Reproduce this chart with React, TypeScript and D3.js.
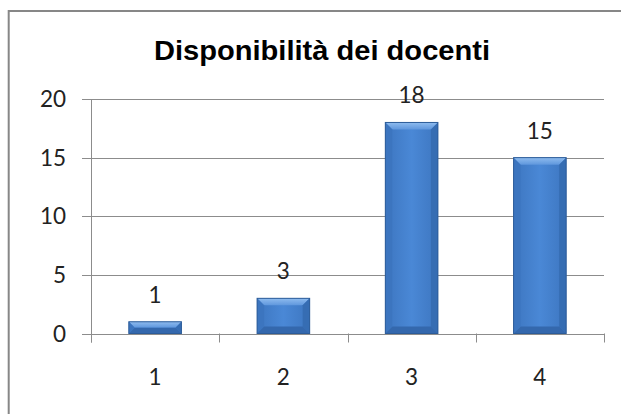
import React from "react";
import * as d3 from "d3";

const categories = ["1", "2", "3", "4"];
const values = [1, 3, 18, 15];
const yTicks = [0, 5, 10, 15, 20];
const title = "Disponibilità dei docenti";

const W = 621;
const H = 414;
const plot = { left: 91, right: 604, top: 99, bottom: 333.5 };

export default function App() {
  const x = d3
    .scaleBand<string>()
    .domain(categories)
    .range([plot.left, plot.right])
    .paddingInner(0.59)
    .paddingOuter(0.295);
  const y = d3.scaleLinear().domain([0, 20]).range([plot.bottom, plot.top]);
  const step = x.step();
  const bw = x.bandwidth();
  const numFont = "Lato, 'Open Sans', sans-serif";
  const grid = "#8c8c8c";
  const bev = 7;

  return (
    <svg
      width={W}
      height={H}
      style={{ position: "absolute", left: 0, top: 0, background: "#fff" }}
    >
      <defs>
        <linearGradient id="barFill" x1="0" x2="1" y1="0" y2="0">
          <stop offset="0" stopColor="#3d76c0" />
          <stop offset="0.5" stopColor="#4a88d6" />
          <stop offset="1" stopColor="#3d76c0" />
        </linearGradient>
        <linearGradient id="topFill" x1="0" x2="0" y1="0" y2="1">
          <stop offset="0" stopColor="#8fbcef" />
          <stop offset="1" stopColor="#5f97dd" />
        </linearGradient>
      </defs>
      <rect x={0} y={0} width={W} height={H} fill="#fff" />
      <rect
        x={8.7}
        y={11}
        width={800}
        height={600}
        fill="#fff"
        stroke="#878787"
        strokeWidth={2}
      />
      <text
        x={322}
        y={60}
        textAnchor="middle"
        fontFamily="'Liberation Sans', Arial, sans-serif"
        fontWeight="bold"
        fontSize={27}
        textLength={336}
        lengthAdjust="spacingAndGlyphs"
        fill="#000"
      >
        {title}
      </text>
      {yTicks.map((t) => (
        <g key={t}>
          <line
            x1={plot.left - 9}
            x2={plot.right}
            y1={Math.round(y(t)) + 0.5}
            y2={Math.round(y(t)) + 0.5}
            stroke={grid}
            strokeWidth={1}
          />
          <text
            x={66}
            y={y(t) + 8}
            textAnchor="end"
            fontFamily={numFont}
            fontSize={22.5}
            fill="#222"
          >
            {t}
          </text>
        </g>
      ))}
      <line
        x1={plot.left + 0.5}
        x2={plot.left + 0.5}
        y1={plot.top}
        y2={plot.bottom + 9}
        stroke={grid}
      />
      {d3.range(categories.length + 1).map((i) => {
        const xx = Math.round(plot.left + i * step) + 0.5;
        return (
          <line
            key={i}
            x1={xx}
            x2={xx}
            y1={plot.bottom}
            y2={plot.bottom + 9}
            stroke={grid}
          />
        );
      })}
      {categories.map((c, i) => {
        const x0 = x(c)!;
        const top = y(values[i]);
        const bot = y(0);
        const h = bot - top;
        const b = Math.min(bev, h / 2);
        return (
          <g key={c}>
            <rect x={x0} y={top} width={bw} height={h} fill="url(#barFill)" />
            <path
              d={`M${x0},${top} L${x0 + bw},${top} L${x0 + bw - b},${top + b} L${x0 + b},${top + b} Z`}
              fill="url(#topFill)"
            />
            <path
              d={`M${x0},${bot} L${x0 + bw},${bot} L${x0 + bw - b},${bot - b} L${x0 + b},${bot - b} Z`}
              fill="#3468ad"
            />
            <path
              d={`M${x0},${top} L${x0 + b},${top + b} L${x0 + b},${bot - b} L${x0},${bot} Z`}
              fill="#3c75bf"
            />
            <path
              d={`M${x0 + bw},${top} L${x0 + bw - b},${top + b} L${x0 + bw - b},${bot - b} L${x0 + bw},${bot} Z`}
              fill="#366db3"
            />
            <rect
              x={x0}
              y={top}
              width={bw}
              height={h}
              fill="none"
              stroke="#2c5c99"
              strokeWidth={1}
            />
            <text
              x={x0 + bw / 2}
              y={top - 19}
              textAnchor="middle"
              fontFamily={numFont}
              fontSize={22.5}
              fill="#222"
            >
              {values[i]}
            </text>
            <text
              x={x0 + bw / 2}
              y={384.5}
              textAnchor="middle"
              fontFamily={numFont}
              fontSize={22.5}
              fill="#222"
            >
              {c}
            </text>
          </g>
        );
      })}
    </svg>
  );
}
